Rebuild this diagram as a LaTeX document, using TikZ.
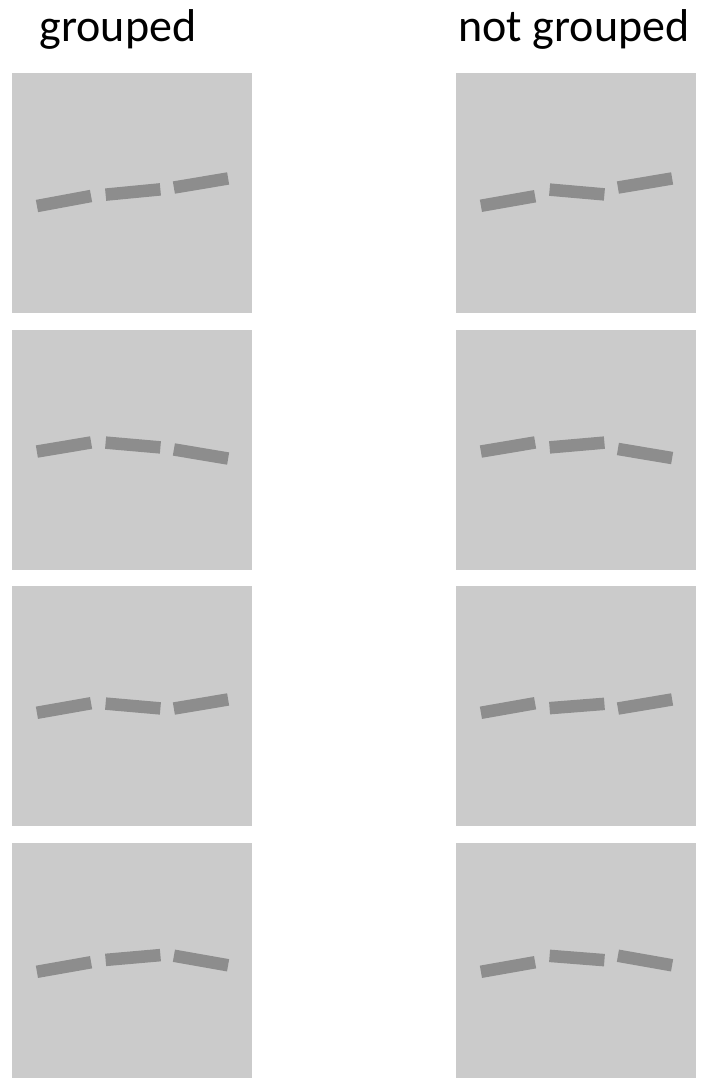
\documentclass[tikz,border=0pt]{standalone}
\usepackage{fontspec}
\setmainfont{Carlito}
\definecolor{panelgray}{RGB}{203,203,203}
\definecolor{bargray}{RGB}{141,141,141}
\begin{document}
\begin{tikzpicture}[x=1bp,y=-1bp,
  panel/.style={fill=panelgray,draw=none,minimum width=240bp,minimum height=240bp,inner sep=0,anchor=north west},
  bar/.style={fill=bargray,draw=none,minimum width=55bp,minimum height=12.5bp,inner sep=0},
  title/.style={anchor=base,inner sep=0,font=\fontsize{46bp}{50bp}\selectfont}]
\useasboundingbox (0,0) rectangle (704,1078);
\fill[white] (0,0) rectangle (704,1078);
\node[title] (tl) at (118,41) {grouped};
\node[title] (tr) at (574,41) {not grouped};
% panels
\node[panel] (p1l) at (12,73) {};
\node[panel] (p1r) at (456,73) {};
\node[panel] (p2l) at (12,329.5) {};
\node[panel] (p2r) at (456,329.5) {};
\node[panel] (p3l) at (12,586) {};
\node[panel] (p3r) at (456,586) {};
\node[panel] (p4l) at (12,842.5) {};
\node[panel] (p4r) at (456,842.5) {};
% row 1
\node[bar,rotate=10.5] (b1la) at (64,201) {};
\node[bar,rotate=5.5] (b1lb) at (133,192) {};
\node[bar,rotate=9.5] (b1lc) at (201,183) {};
\node[bar,rotate=10] (b1ra) at (508,201) {};
\node[bar,rotate=-5] (b1rb) at (577,192) {};
\node[bar,rotate=9.5] (b1rc) at (645,183) {};
% row 2
\node[bar,rotate=9.5] (b2la) at (64,447) {};
\node[bar,rotate=-5] (b2lb) at (133,445) {};
\node[bar,rotate=-9.5] (b2lc) at (201,454) {};
\node[bar,rotate=9.5] (b2ra) at (508,447) {};
\node[bar,rotate=5] (b2rb) at (577,445) {};
\node[bar,rotate=-9.5] (b2rc) at (645,453.5) {};
% row 3
\node[bar,rotate=10] (b3la) at (64,708) {};
\node[bar,rotate=-5] (b3lb) at (133,706) {};
\node[bar,rotate=9.5] (b3lc) at (201,704) {};
\node[bar,rotate=10] (b3ra) at (508,708) {};
\node[bar,rotate=4.5] (b3rb) at (577,706) {};
\node[bar,rotate=9.5] (b3rc) at (645,704) {};
% row 4
\node[bar,rotate=10] (b4la) at (64,967) {};
\node[bar,rotate=5] (b4lb) at (133,957.5) {};
\node[bar,rotate=-10] (b4lc) at (201,960.5) {};
\node[bar,rotate=10] (b4ra) at (508,967) {};
\node[bar,rotate=-4.5] (b4rb) at (577,958) {};
\node[bar,rotate=-10] (b4rc) at (645,960.5) {};
\end{tikzpicture}
\end{document}
